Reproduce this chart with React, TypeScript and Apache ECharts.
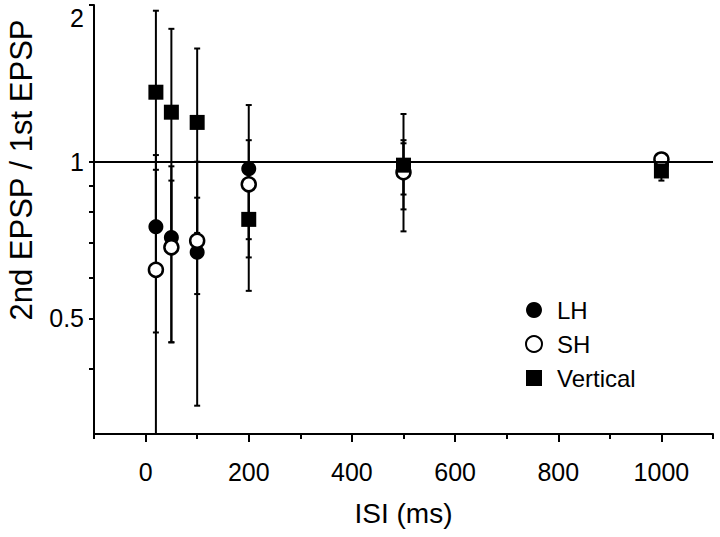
import React, { useEffect, useRef } from "react";
import * as echarts from "echarts";

// ISI (ms)
const ISI = [20, 50, 100, 200, 500, 1000];
// 2nd EPSP / 1st EPSP ratios and error (symmetric)
const LH_MEAN = [0.75, 0.715, 0.67, 0.97, 0.975, 0.99];
const LH_ERR = [0.28, 0.265, 0.33, 0.315, 0.11, 0.02];
const SH_MEAN = [0.62, 0.685, 0.705, 0.905, 0.955, 1.01];
const SH_ERR = [0.345, 0.235, 0.148, 0.195, 0.145, 0.012];
const VERT_MEAN = [1.36, 1.245, 1.19, 0.775, 0.985, 0.96];
const VERT_ERR = [0.59, 0.555, 0.46, 0.21, 0.25, 0.04];

const X_TICKS = [0, 200, 400, 600, 800, 1000];
const Y_LABELS = [0.5, 1, 2];
const Y_TICKS = [0.4, 0.5, 0.6, 0.7, 0.8, 0.9, 1, 2];
const Y_MIN = 0.3;
const Y_MAX = 2;
const X_MIN = -100;
const X_MAX = 1100;

const FONT = "'Liberation Sans', Arial, sans-serif";
const L = (v: number) => Math.log10(v);

function errorSeries(name: string, mean: number[], err: number[]) {
  return {
    type: "custom",
    name: name + "-err",
    xAxisIndex: 0,
    yAxisIndex: 0,
    z: 2,
    silent: true,
    data: ISI.map((x, i) => [x, mean[i], err[i]]),
    renderItem: (params: any, api: any) => {
      const x = api.value(0);
      const m = api.value(1);
      const e = api.value(2);
      const hi = m + e;
      const lo = m - e;
      const hiC = Math.min(hi, Y_MAX);
      const loC = Math.max(lo, Y_MIN);
      const pTop = api.coord([x, L(hiC)]);
      const pBot = api.coord([x, L(loC)]);
      const style = { stroke: "#000", lineWidth: 2 };
      const children: any[] = [
        { type: "line", shape: { x1: pTop[0], y1: pTop[1], x2: pBot[0], y2: pBot[1] }, style },
      ];
      const cw = 3;
      if (hi <= Y_MAX) {
        children.push({ type: "line", shape: { x1: pTop[0] - cw, y1: pTop[1], x2: pTop[0] + cw, y2: pTop[1] }, style });
      }
      if (lo >= Y_MIN) {
        children.push({ type: "line", shape: { x1: pBot[0] - cw, y1: pBot[1], x2: pBot[0] + cw, y2: pBot[1] }, style });
      }
      return { type: "group", children };
    },
  };
}

export default function App() {
  const ref = useRef<HTMLDivElement>(null);
  useEffect(() => {
    if (!ref.current) return;
    const chart = echarts.init(ref.current, null, { renderer: "svg" });
    const option: any = {
      animation: false,
      backgroundColor: "#fff",
      textStyle: { fontFamily: FONT },
      grid: { left: 94, right: 7, top: 5, bottom: 103, containLabel: false, outerBoundsMode: "none" },
      legend: {
        data: ["LH", "SH", "Vertical"],
        orient: "vertical",
        left: 520,
        top: 293,
        itemWidth: 16,
        itemHeight: 16,
        itemGap: 10,
        textStyle: { fontSize: 24, color: "#000", fontFamily: FONT, padding: [0, 0, 0, 10] },
      },
      xAxis: [
        {
          type: "value",
          min: X_MIN,
          max: X_MAX,
          position: "bottom",
          splitLine: { show: false },
          axisLine: { show: true, onZero: false, lineStyle: { color: "#000", width: 2 } },
          axisTick: { show: true, customValues: X_TICKS, length: 8, lineStyle: { color: "#000", width: 2 } },
          axisLabel: {
            customValues: X_TICKS,
            fontSize: 25,
            color: "#000",
            margin: 25,
            fontFamily: FONT,
            formatter: (v: number) => String(v),
          },
          name: "ISI (ms)",
          nameLocation: "middle",
          nameGap: 65,
          nameTextStyle: { fontSize: 28, color: "#000", fontFamily: FONT },
        },
        {
          type: "value",
          min: X_MIN,
          max: X_MAX,
          interval: 100,
          position: "bottom",
          splitLine: { show: false },
          axisLine: { show: false, onZero: false },
          axisTick: { show: true, length: 5, lineStyle: { color: "#000", width: 2 } },
          axisLabel: { show: false },
        },
      ],
      yAxis: {
        type: "value",
        min: L(Y_MIN),
        max: L(Y_MAX),
        splitLine: { show: false },
        axisLine: { show: true, onZero: false, lineStyle: { color: "#000", width: 2 } },
        axisTick: { show: true, customValues: Y_TICKS.map(L), length: 5, lineStyle: { color: "#000", width: 2 } },
        axisLabel: {
          customValues: Y_LABELS.map(L),
          fontSize: 25,
          color: "#000",
          margin: 10,
          fontFamily: FONT,
          verticalAlignMaxLabel: "top",
          formatter: (v: number) => String(Math.round(Math.pow(10, v) * 10) / 10),
        },
      },
      graphic: [
        {
          type: "text",
          x: 21,
          y: 170,
          rotation: Math.PI / 2,
          style: {
            text: "2nd EPSP / 1st EPSP",
            fontSize: 31,
            fontFamily: FONT,
            fill: "#000",
            align: "center",
            verticalAlign: "middle",
          },
        },
      ],
      series: [
        errorSeries("LH", LH_MEAN, LH_ERR),
        errorSeries("SH", SH_MEAN, SH_ERR),
        errorSeries("Vertical", VERT_MEAN, VERT_ERR),
        {
          type: "scatter",
          name: "LH",
          z: 3,
          symbol: "circle",
          symbolSize: 15,
          itemStyle: { color: "#000", opacity: 1 },
          data: ISI.map((x, i) => [x, L(LH_MEAN[i])]),
          markLine: {
            silent: true,
            symbol: ["none", "none"],
            label: { show: false },
            lineStyle: { color: "#000", width: 2, type: "solid" },
            data: [{ yAxis: 0 }],
          },
        },
        {
          type: "scatter",
          name: "SH",
          z: 4,
          symbol: "circle",
          symbolSize: 14,
          itemStyle: { color: "#fff", borderColor: "#000", borderWidth: 2.5, opacity: 1 },
          data: ISI.map((x, i) => [x, L(SH_MEAN[i])]),
        },
        {
          type: "scatter",
          name: "Vertical",
          z: 5,
          symbol: "rect",
          symbolSize: 15,
          itemStyle: { color: "#000", opacity: 1 },
          data: ISI.map((x, i) => [x, L(VERT_MEAN[i])]),
        },
      ],
    };
    chart.setOption(option);
    return () => chart.dispose();
  }, []);
  return (
    <div
      ref={ref}
      style={{ position: "fixed", left: 0, top: 0, width: 720, height: 537, background: "#fff" }}
    />
  );
}
